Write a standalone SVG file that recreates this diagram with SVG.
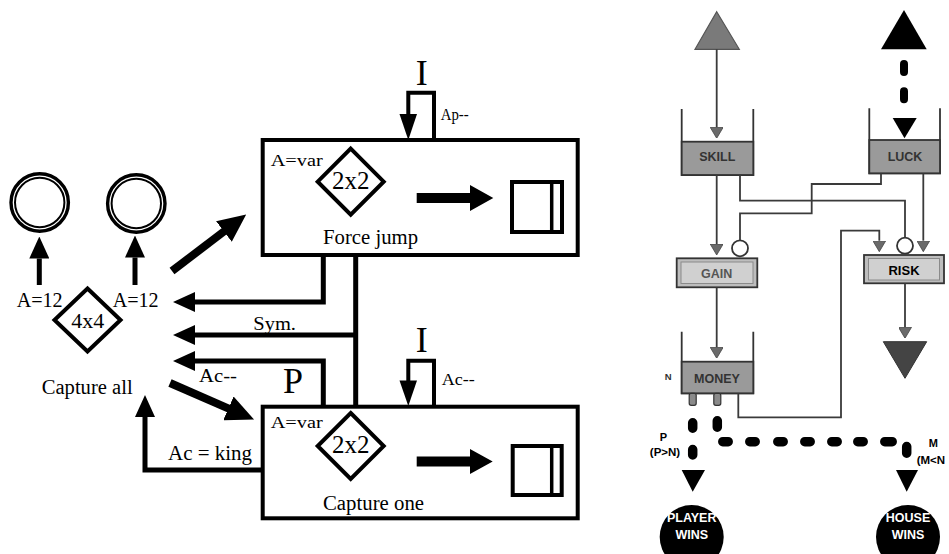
<svg xmlns="http://www.w3.org/2000/svg" width="949" height="554" viewBox="0 0 949 554">
<defs>
<style>
.serif{font-family:"Liberation Serif","Times New Roman",serif;fill:#000}
.sans{font-family:"Liberation Sans",Arial,sans-serif;font-weight:bold}
.box{fill:#fff;stroke:#000;stroke-width:4}
.dia{fill:#fff;stroke:#000;stroke-width:4;stroke-linejoin:miter}
.conn{fill:none;stroke:#000;stroke-width:5}
.thin{fill:none;stroke:#3a3a3a;stroke-width:1.8}
.tankwall{fill:none;stroke:#333;stroke-width:1.8}
.tank{fill:#9a9a9a;stroke:#333;stroke-width:1.8}
.conv{fill:#bdbdbd;stroke:#333;stroke-width:1.8}
.convin{fill:#d0d0d0;stroke:#8a8a8a;stroke-width:1}
.dash{fill:none;stroke:#000;stroke-width:9.5;stroke-linecap:round}
</style>
<marker id="ahL" markerUnits="userSpaceOnUse" markerWidth="22" markerHeight="20" viewBox="0 0 22 20" refX="0" refY="10" orient="auto">
<path d="M0,0 L22,10 L0,20 z" fill="#000"/>
</marker>
<marker id="ahD" markerUnits="userSpaceOnUse" markerWidth="28" markerHeight="26" viewBox="0 0 28 26" refX="1" refY="13" orient="auto">
<path d="M0,0 L28,13 L0,26 z" fill="#000"/>
</marker>
<marker id="ahG" markerUnits="userSpaceOnUse" markerWidth="11" markerHeight="13" viewBox="0 0 11 13" refX="0" refY="6.5" orient="auto">
<path d="M0,0 L11,6.5 L0,13 z" fill="#6a6a6a" stroke="#444" stroke-width="0.8"/>
</marker>
</defs>
<rect width="949" height="554" fill="#fff"/>

<!-- LEFT DIAGRAM -->
<g id="ring1">
<circle cx="39.7" cy="202.5" r="28.7" fill="none" stroke="#000" stroke-width="3.4"/>
<circle cx="39.7" cy="202.5" r="24.7" fill="none" stroke="#000" stroke-width="2"/>
</g>
<g id="ring2">
<circle cx="136.3" cy="203.5" r="28.7" fill="none" stroke="#000" stroke-width="3.4"/>
<circle cx="136.3" cy="203.5" r="24.7" fill="none" stroke="#000" stroke-width="2"/>
</g>
<g id="capture-all">
<polygon class="dia" points="87.5,288.5 120.5,320 87.5,351.5 54.5,320"/>
<text class="serif" x="87.7" y="328.3" font-size="22" text-anchor="middle">4x4</text>
<text class="serif" x="16.7" y="306.5" font-size="20.5" textLength="46" lengthAdjust="spacingAndGlyphs">A=12</text>
<text class="serif" x="112.7" y="306.5" font-size="20.5" textLength="46" lengthAdjust="spacingAndGlyphs">A=12</text>
<text class="serif" x="41.7" y="394" font-size="20.5" textLength="91" lengthAdjust="spacingAndGlyphs">Capture all</text>
</g>
<g id="force-jump">
<rect class="box" x="262.7" y="140" width="315" height="115"/>
<text class="serif" x="270.7" y="166" font-size="17" textLength="52" lengthAdjust="spacingAndGlyphs">A=var</text>
<polygon class="dia" points="350.7,148.7 383.7,181.7 350.7,214.7 317.7,181.7"/>
<text class="serif" x="350.7" y="188.5" font-size="25" text-anchor="middle">2x2</text>
<path d="M416.7,193 H470 V185 L493.3,198 L470,211 V203 H416.7 z" fill="#000"/>
<rect x="512" y="182" width="50" height="50" fill="#fff" stroke="#000" stroke-width="4"/>
<line x1="551.7" y1="182" x2="551.7" y2="232" stroke="#000" stroke-width="3.5"/>
<text class="serif" x="323" y="243.5" font-size="20" textLength="95" lengthAdjust="spacingAndGlyphs">Force jump</text>
</g>
<g id="capture-one">
<rect class="box" x="262.7" y="406.7" width="315" height="111.6"/>
<text class="serif" x="270.7" y="428.3" font-size="17" textLength="52" lengthAdjust="spacingAndGlyphs">A=var</text>
<polygon class="dia" points="350.7,413 383.7,446 350.7,479 317.7,446"/>
<text class="serif" x="350.7" y="452.7" font-size="25" text-anchor="middle">2x2</text>
<path d="M416.7,456.5 H470 V449 L492.7,461.5 L470,474 V466.5 H416.7 z" fill="#000"/>
<rect x="512.7" y="446" width="49" height="49" fill="#fff" stroke="#000" stroke-width="4"/>
<line x1="551.7" y1="446" x2="551.7" y2="495" stroke="#000" stroke-width="3.5"/>
<text class="serif" x="323" y="510" font-size="20.5" textLength="101" lengthAdjust="spacingAndGlyphs">Capture one</text>
</g>

<g id="connectors-left">
<path class="conn" d="M39.3,285 V258.5" marker-end="url(#ahL)"/>
<path class="conn" d="M135,285 V257.5" marker-end="url(#ahL)"/>
<path d="M172,271 L224.7,230.9" fill="none" stroke="#000" stroke-width="8" marker-end="url(#ahD)"/>
<path d="M170,383 L229.3,408.8" fill="none" stroke="#000" stroke-width="8" marker-end="url(#ahD)"/>
<path class="conn" d="M323.3,255 V302 H195" marker-end="url(#ahL)"/>
<path class="conn" d="M355.7,255 V406"/>
<path class="conn" d="M355.7,335 H195" marker-end="url(#ahL)"/>
<path class="conn" d="M323.3,406 V361 H195" marker-end="url(#ahL)"/>
<path class="conn" d="M263,470 H145 V417" marker-end="url(#ahL)"/>
<path d="M434,140 V92.7 H408.3 V116" fill="none" stroke="#000" stroke-width="4"/>
<polygon points="399.5,114 417,114 408.3,140" fill="#000"/>
<path d="M434,406 V360.7 H408.3 V382" fill="none" stroke="#000" stroke-width="4"/>
<polygon points="399.5,380.5 417,380.5 408.3,406" fill="#000"/>
<text class="serif" x="421.7" y="85" font-size="36" text-anchor="middle">I</text>
<text class="serif" x="421.7" y="351.7" font-size="36" text-anchor="middle">I</text>
<text class="serif" x="440.7" y="120" font-size="17.5" textLength="28" lengthAdjust="spacingAndGlyphs">Ap--</text>
<text class="serif" x="441.7" y="385" font-size="17.5" textLength="33" lengthAdjust="spacingAndGlyphs">Ac--</text>
<text class="serif" x="253.3" y="329.5" font-size="19" textLength="42.7" lengthAdjust="spacingAndGlyphs">Sym.</text>
<text class="serif" x="199" y="382" font-size="18" textLength="38" lengthAdjust="spacingAndGlyphs">Ac--</text>
<text class="serif" x="283" y="393" font-size="36">P</text>
<text class="serif" x="168" y="460" font-size="20" textLength="84" lengthAdjust="spacingAndGlyphs">Ac = king</text>
</g>

<!-- RIGHT DIAGRAM -->
<g id="source-skill">
<polygon points="716.7,11.7 739.3,49.3 695,49.3" fill="#7a7a7a" stroke="#555" stroke-width="1.2"/>
</g>
<g id="source-luck">
<polygon points="904,10 926.7,49.3 881,49.3" fill="#000"/>
</g>
<g id="skill">
<path class="tankwall" d="M681.7,109 V175 H753.3 V109"/>
<rect class="tank" x="681.7" y="141.7" width="71.6" height="33.3"/>
<text class="sans" x="717.3" y="161.4" font-size="12.5" fill="#333" text-anchor="middle">SKILL</text>
</g>
<g id="luck">
<path class="tankwall" d="M869.3,108.3 V173.3 H940 V108.3"/>
<rect class="tank" x="869.3" y="140" width="70.7" height="33.3"/>
<text class="sans" x="905" y="161" font-size="12.5" fill="#333" text-anchor="middle">LUCK</text>
</g>
<g id="gain">
<rect class="conv" x="676.7" y="258.3" width="80.6" height="29"/>
<rect class="convin" x="681" y="262" width="72" height="21.5"/>
<circle cx="740" cy="248.3" r="8" fill="#fff" stroke="#333" stroke-width="1.8"/>
<text class="sans" x="716.7" y="277.5" font-size="12.5" fill="#555" text-anchor="middle">GAIN</text>
</g>
<g id="risk">
<rect class="conv" x="864" y="255" width="80" height="28.3"/>
<rect class="convin" x="868.5" y="258.5" width="71" height="21.5"/>
<circle cx="905" cy="245.7" r="8" fill="#fff" stroke="#333" stroke-width="1.8"/>
<text class="sans" x="904" y="274.5" font-size="13" fill="#000" text-anchor="middle">RISK</text>
</g>
<g id="drain">
<polygon points="883.3,341.7 926.7,341.7 905,378.3" fill="#444" stroke="#333" stroke-width="1"/>
</g>
<g id="money">
<path class="tankwall" d="M681.7,331.7 V393.3 H753.3 V331.7"/>
<rect class="tank" x="681.7" y="361.7" width="71.6" height="31.6"/>
<rect x="689.2" y="393.3" width="7" height="12" rx="2" fill="#8a8a8a" stroke="#333" stroke-width="1.2"/>
<rect x="713.8" y="393.3" width="7" height="12" rx="2" fill="#8a8a8a" stroke="#333" stroke-width="1.2"/>
<text class="sans" x="717" y="382.5" font-size="12.5" fill="#333" text-anchor="middle">MONEY</text>
<text class="sans" x="668.3" y="379.5" font-size="9.5" fill="#333" text-anchor="middle">N</text>
</g>
<g id="player-wins">
<circle cx="691.7" cy="537" r="32" fill="#000"/>
<text class="sans" x="691.7" y="521.5" font-size="12.5" fill="#fff" text-anchor="middle">PLAYER</text>
<text class="sans" x="691.7" y="539" font-size="12.5" fill="#fff" text-anchor="middle">WINS</text>
</g>
<g id="house-wins">
<circle cx="908" cy="537" r="32" fill="#000"/>
<text class="sans" x="908" y="521.5" font-size="12.5" fill="#fff" text-anchor="middle">HOUSE</text>
<text class="sans" x="908" y="539" font-size="12.5" fill="#fff" text-anchor="middle">WINS</text>
</g>

<g id="connectors-right">
<path class="thin" d="M716.7,49.3 V127.3" marker-end="url(#ahG)"/>
<path d="M904,64 V118" fill="none" stroke="#000" stroke-width="8" stroke-linecap="round" stroke-dasharray="8 19.3"/>
<polygon points="892.7,118 916.7,118 904.5,138.3" fill="#000"/>
<path class="thin" d="M716.7,175 V244" marker-end="url(#ahG)"/>
<path class="thin" d="M740,175 V200.7 H905 V237.7"/>
<path class="thin" d="M881,173.3 V184 H811.7 V213.3 H740 V240.3"/>
<path class="thin" d="M923.3,173.3 V240.7" marker-end="url(#ahG)"/>
<path class="thin" d="M738.3,393.3 V417.3 H841 V230.7 H879.3 V240.7" marker-end="url(#ahG)"/>
<path class="thin" d="M716.7,287.3 V347.3" marker-end="url(#ahG)"/>
<path class="thin" d="M905,283.3 V327.3" marker-end="url(#ahG)"/>
<path class="dash" d="M692.7,422.8 V428.2 M692.7,449.5 V455 M717.3,420.8 V427.2 M722.8,441.7 H728.2 M749.8,441.7 H755.2 M777.8,441.7 H783.2 M804.8,441.7 H810.2 M831.8,441.7 H837.2 M857.8,441.7 H863.2 M884.8,441.7 H892.2 M906.7,446.5 V453.2"/>
<polygon points="681.7,470 705,470 692.7,491.7" fill="#000"/>
<polygon points="896,470 918,470 906.7,491.7" fill="#000"/>
<text class="sans" x="663.3" y="440.5" font-size="11" fill="#000" text-anchor="middle">P</text>
<text class="sans" x="665" y="456" font-size="11.5" fill="#000" text-anchor="middle">(P&gt;N)</text>
<text class="sans" x="933.3" y="447" font-size="11" fill="#000" text-anchor="middle">M</text>
<text class="sans" x="916.7" y="464" font-size="11.5" fill="#000">(M&lt;N</text>
</g>
</svg>
